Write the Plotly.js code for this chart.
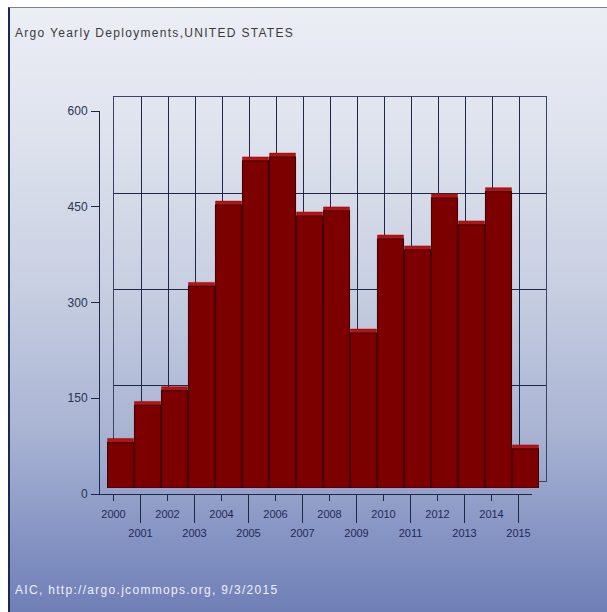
<!DOCTYPE html>
<html>
<head>
<meta charset="utf-8">
<script src="https://cdn.plot.ly/plotly-3.0.1.min.js"></script>
<style>
  html, body { margin:0; padding:0; background:#ffffff; }
  #panel { position:absolute; left:8px; top:7px; width:599px; height:605px;
    border-left:2px solid #1c2850; border-top:1px solid #7a8090; box-sizing:border-box;
    background: linear-gradient(to bottom, #eceef5 0%, #dfe3ee 20%, #c9d0e2 45%, #a9b4d3 70%, #8593c3 88%, #6f7fb6 100%); }
  #chart { position:absolute; left:0; top:0; width:607px; height:612px; }
  .gtitle { letter-spacing:1.3px; }
  .annotation-text { letter-spacing:1.3px; }
  .ytick text, .ytick { letter-spacing:1.5px; }
</style>
</head>
<body>
<div id="panel"></div>
<div id="chart"></div>
<script>
// ---- data ----
const years = ["2000","2001","2002","2003","2004","2005","2006","2007",
               "2008","2009","2010","2011","2012","2013","2014","2015"];
const deployments = [71,129,152,315,442,511,517,425,433,242,389,372,453,411,463,61];
const yTicks = [0,150,300,450,600];
const titleText = "Argo Yearly Deployments,UNITED STATES";
const footerText = "AIC, http://argo.jcommops.org, 9/3/2015";

// ---- geometry helpers (pixel -> domain) ----
const W = 607, H = 612;
const dX = (a,b) => [a/W, b/W];
const dY = (top,bottom) => [(H-bottom)/H, (H-top)/H];

const evenYears = years.filter((y,i) => i % 2 === 0);
const oddYears  = years.filter((y,i) => i % 2 === 1);

const gridCol = "#1e2846";
const txtCol = "#1e2a55";
const FONT = "Liberation Sans, Arial, sans-serif";

const traces = [
  // back plane (grid holder)
  {type:"scatter", mode:"none", x:years, y:deployments, xaxis:"x", yaxis:"y",
   hoverinfo:"skip", showlegend:false},
  // top cap of bars
  {type:"bar", x:years, y:deployments, xaxis:"x2", yaxis:"y2",
   marker:{color:"#b41414", line:{color:"#8a0808", width:0.5}},
   hoverinfo:"skip", showlegend:false},
  // front face of bars
  {type:"bar", x:years, y:deployments, xaxis:"x3", yaxis:"y3",
   marker:{color:"#7c0000", line:{color:"#480000", width:1.2}},
   hoverinfo:"skip", showlegend:false},
  // front axes holder
  {type:"scatter", mode:"none", x:years, y:deployments, xaxis:"x4", yaxis:"y4",
   hoverinfo:"skip", showlegend:false},
  // odd-year labels with long ticks
  {type:"scatter", mode:"none", x:years, y:deployments, xaxis:"x5", yaxis:"y4",
   hoverinfo:"skip", showlegend:false}
];

const hidden = {showgrid:false, zeroline:false, showline:false, showticklabels:false, ticks:""};

const layout = {
  width: W, height: H,
  margin:{l:0,r:0,t:0,b:0,pad:0},
  paper_bgcolor:"rgba(0,0,0,0)",
  plot_bgcolor:"rgba(0,0,0,0)",
  showlegend:false,
  bargap:0.04,
  font:{family:FONT, size:11, color:txtCol},
  title:{text:titleText, xref:"container", yref:"container", x:15/W, xanchor:"left",
         y:(H-33)/H, yanchor:"middle", font:{family:FONT, size:12, color:"#3a3a3a"}},
  // back plane
  xaxis:{domain:dX(114,546), anchor:"y", type:"category", range:[-0.5,15.5],
         tickson:"boundaries", showgrid:true, gridcolor:gridCol, gridwidth:1,
         showline:true, mirror:true, linecolor:"#3a4460", linewidth:1,
         ticks:"", showticklabels:false, zeroline:false},
  yaxis:{domain:dY(97,481), anchor:"x", range:[0,600], tickvals:yTicks,
         showgrid:true, gridcolor:gridCol, gridwidth:1,
         showline:true, mirror:true, linecolor:"#3a4460", linewidth:1,
         ticks:"", showticklabels:false, zeroline:false},
  // cap layer
  xaxis2:Object.assign({domain:dX(107,539), anchor:"y2", type:"category", range:[-0.5,15.5]}, hidden),
  yaxis2:Object.assign({domain:dY(100,484), anchor:"x2", range:[0,600]}, hidden),
  // front face bars
  xaxis3:Object.assign({domain:dX(107,539), anchor:"y3", type:"category", range:[-0.5,15.5]}, hidden),
  yaxis3:Object.assign({domain:dY(104,488), anchor:"x3", range:[0,600]}, hidden),
  // front axes: even-year labels, short ticks
  xaxis4:{domain:dX(100,532), anchor:"y4", type:"category", range:[-0.5,15.5],
          tickvals:evenYears, ticktext:evenYears, ticks:"outside", ticklen:6, tickcolor:gridCol,
          ticklabelstandoff:4,
          showline:true, linecolor:gridCol, linewidth:1, showgrid:false, zeroline:false,
          tickfont:{family:FONT, size:11, color:txtCol}},
  // odd-year labels under long ticks
  xaxis5:{overlaying:"x4", anchor:"y4", type:"category", range:[-0.5,15.5],
          tickvals:oddYears, ticktext:oddYears, ticks:"outside", ticklen:28, tickcolor:gridCol,
          ticklabelstandoff:1,
          showticklabels:true, showline:false, showgrid:false, zeroline:false,
          tickfont:{family:FONT, size:11, color:txtCol}},
  yaxis4:{domain:dY(111,494), anchor:"x4", range:[0,600], tickvals:yTicks,
          ticks:"outside", ticklen:8, tickcolor:gridCol, showline:true, linecolor:gridCol,
          linewidth:1, showgrid:false, zeroline:false, ticklabelstandoff:1,
          tickfont:{family:FONT, size:12, color:"#2a3352"}},
  annotations:[
    {text:footerText, xref:"paper", yref:"paper", x:13/W, y:(H-590)/H,
     xanchor:"left", yanchor:"middle", showarrow:false,
     font:{family:FONT, size:12, color:"#eef0fa"}}
  ]
};

Plotly.newPlot("chart", traces, layout, {staticPlot:true, displayModeBar:false});
</script>
</body>
</html>
